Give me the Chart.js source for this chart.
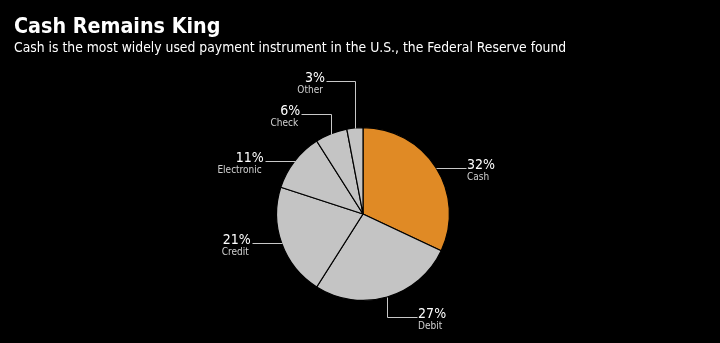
<!DOCTYPE html>
<html><head><meta charset="utf-8">
<script src="https://cdn.jsdelivr.net/npm/chart.js@4"></script>
<style>
html,body{margin:0;padding:0;background:#000;}
#wrap{position:relative;width:720px;height:343px;overflow:hidden;}
#title{position:absolute;left:14px;top:13px;color:#fff;font:bold 21.3px "DejaVu Sans Condensed","DejaVu Sans",sans-serif;}
#sub{position:absolute;left:14px;top:39px;color:#fff;font:13.8px "DejaVu Sans Condensed","DejaVu Sans",sans-serif;}
canvas{position:absolute;left:0;top:0;}
</style></head>
<body><div id="wrap">
<canvas id="c" width="720" height="343"></canvas>
<div id="title">Cash Remains King</div>
<div id="sub">Cash is the most widely used payment instrument in the U.S., the Federal Reserve found</div>
</div>
<script>
const categories = ["Cash", "Debit", "Credit", "Electronic", "Check", "Other"];
const shares = [32, 27, 21, 11, 6, 3];
const sliceColors = ["#E08A25", "#C4C4C4", "#C4C4C4", "#C4C4C4", "#C4C4C4", "#C4C4C4"];
// leader line offsets: vertical then horizontal from slice edge
const leaderDy = [0, 20, 0, 0, -20, -47];
const leaderDx = [30, 30, -30, -30, -30, -29];

const leaderPlugin = {
  id: 'leaders',
  afterDatasetsDraw(chart) {
    const ctx = chart.ctx;
    const meta = chart.getDatasetMeta(0);
    meta.data.forEach((arc, i) => {
      const p = arc.getProps(['x','y','startAngle','endAngle','outerRadius'], true);
      const mid = (p.startAngle + p.endAngle) / 2;
      const x0 = p.x + Math.cos(mid) * p.outerRadius;
      const y0 = p.y + Math.sin(mid) * p.outerRadius;
      const y1 = y0 + leaderDy[i];
      const x2 = x0 + leaderDx[i];
      ctx.save();
      ctx.strokeStyle = '#c8c8c8';
      ctx.lineWidth = 1;
      ctx.beginPath();
      ctx.moveTo(Math.round(x0)+0.5, Math.round(y0)+0.5);
      ctx.lineTo(Math.round(x0)+0.5, Math.round(y1)+0.5);
      ctx.lineTo(Math.round(x2)+0.5, Math.round(y1)+0.5);
      ctx.stroke();
      const right = leaderDx[i] > 0;
      ctx.textAlign = right ? 'left' : 'right';
      const tx = right ? x2 + 1 : x2 - 1;
      ctx.fillStyle = '#fff';
      ctx.font = '14px "DejaVu Sans Condensed","DejaVu Sans",sans-serif';
      ctx.textBaseline = 'alphabetic';
      ctx.fillText(shares[i] + '%', tx, y1 + 1);
      ctx.fillStyle = '#d0d0d0';
      ctx.font = '10px "DejaVu Sans Condensed","DejaVu Sans",sans-serif';
      ctx.fillText(categories[i], right ? tx : tx - 2, y1 + 12);
      ctx.restore();
    });
  }
};

new Chart(document.getElementById('c'), {
  type: 'pie',
  data: {
    labels: categories,
    datasets: [{
      data: shares,
      backgroundColor: sliceColors,
      borderColor: '#000',
      borderWidth: 1.2
    }]
  },
  options: {
    responsive: false,
    animation: false,
    layout: { padding: { top: 127, bottom: 42, left: 276, right: 270 } },
    plugins: { legend: { display: false }, tooltip: { enabled: false }, title: { display: false } }
  },
  plugins: [leaderPlugin]
});
</script>
</body></html>
